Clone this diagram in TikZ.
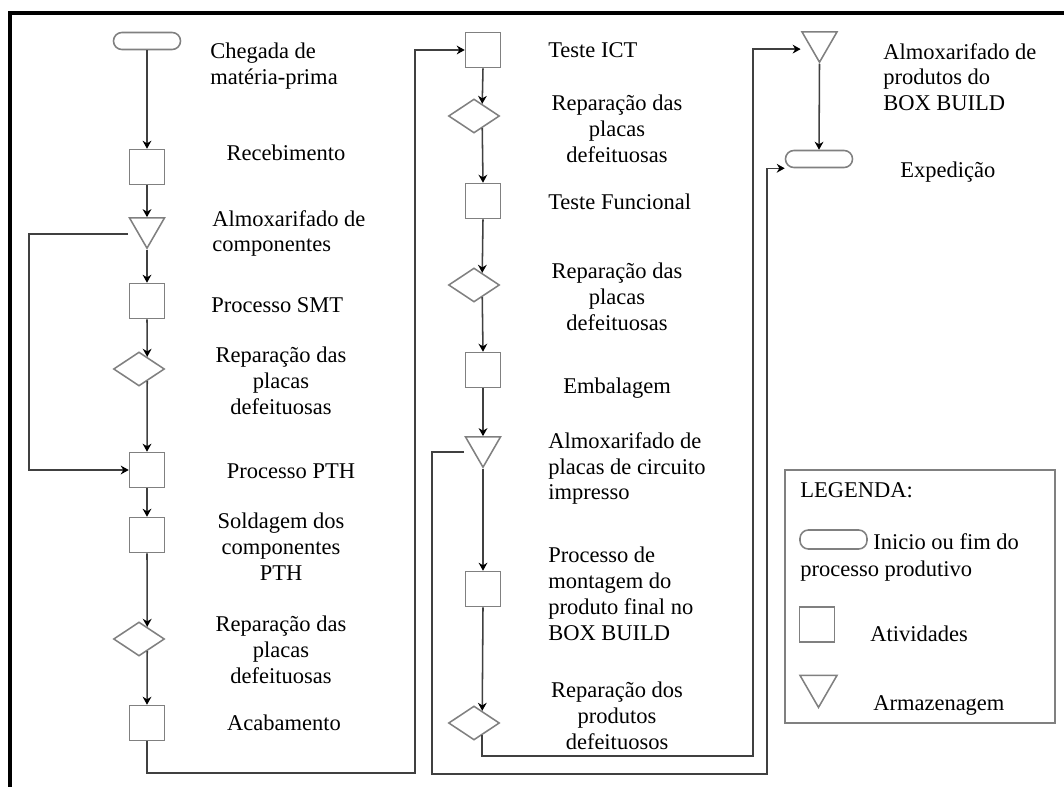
\documentclass[tikz,border=0pt]{standalone}
\usepackage{fontspec}
\setmainfont{Liberation Serif}
\usepackage{tikz}
\usetikzlibrary{calc,arrows.meta,shapes.geometric}

\begin{document}
\begin{tikzpicture}[x=0.025cm,y=-0.025cm,
    activ/.style={draw=black!50,line width=1.1pt,minimum size=0.875cm,inner sep=0pt},
    repar/.style={diamond,draw=black!50,line width=1.1pt,minimum width=1.275cm,minimum height=0.85cm,inner sep=0pt},
    armaz/.style={regular polygon,regular polygon sides=3,shape border rotate=180,draw=black!50,line width=1.1pt,minimum size=1.01cm,inner sep=0pt},
    termi/.style={draw=black!50,line width=1.1pt,rounded corners=2.1mm,minimum width=1.675cm,minimum height=0.425cm,inner sep=0pt},
    flow/.style={draw=black!75,line width=1.1pt,-{Stealth[black,length=2mm,width=2.2mm]}},
    lbl/.style={inner sep=0pt,font=\fontsize{16}{18.4}\selectfont,align=left,anchor=north west},
    lblc/.style={lbl,align=center,anchor=north}]
    \useasboundingbox (0,0) rectangle (1064,787);
    \draw[line width=2.2pt,black] (10,787) -- (10,13) -- (1064,13);

    % first column
    \node[termi] (st) at (147,41) {};
    \node[activ] (rb) at (147,167) {};
    \node[armaz] (al1) at (147,228) {};
    \node[activ] (smt) at (147,301) {};
    \node[repar] (rp1) at (139,369) {};
    \node[activ] (pth) at (147,470) {};
    \node[activ] (sold) at (147,535) {};
    \node[repar] (rp2) at (139,639) {};
    \node[activ] (acab) at (147,723) {};

    \node[lbl] (lbChegada) at (210,43) {Chegada de\\matéria-prima};
    \node[lblc] (lbReceb) at (286,145) {Recebimento};
    \node[lbl] (lbAlmox1) at (212,210) {Almoxarifado de\\componentes};
    \node[lbl] (lbSMT) at (211,297) {Processo SMT};
    \node[lblc] (lbRep1) at (281,347) {Reparação das\\placas\\defeituosas};
    \node[lblc] (lbPTH) at (291,463) {Processo PTH};
    \node[lblc] (lbSold) at (281,513) {Soldagem dos\\componentes\\PTH};
    \node[lblc] (lbRep2) at (281,616) {Reparação das\\placas\\defeituosas};
    \node[lblc] (lbAcab) at (284,715) {Acabamento};

    \draw[flow] (st.south) -- (rb.north);
    \draw[flow] (rb.south) -- (al1.north);
    \draw[flow] (al1.south) -- (smt.north);
    \draw[flow] (smt.south) -- (rp1.56);
    \draw[flow] (rp1.-56) -- (pth.north);
    \draw[flow] (pth.south) -- (sold.north);
    \draw[flow] (sold.south) -- (rp2.56);
    \draw[flow] (rp2.-56) -- (acab.north);
    \draw[flow] ($(al1.corner 3)+(0,17)$) -- ++(-99,0) |- (pth.west);

    % second column
    \node[activ] (ict) at (483,50) {};
    \node[repar] (rp3) at (474,116) {};
    \node[activ] (func) at (483,201) {};
    \node[repar] (rp4) at (474,285) {};
    \node[activ] (emb) at (483,370) {};
    \node[armaz] (al2) at (483,447) {};
    \node[activ] (mont) at (483,589) {};
    \node[repar] (rp5) at (474,723) {};

    \node[lbl] (lbICT) at (548,42) {Teste ICT};
    \node[lblc] (lbRep3) at (617,95) {Reparação das\\placas\\defeituosas};
    \node[lbl] (lbFunc) at (548,194) {Teste Funcional};
    \node[lblc] (lbRep4) at (617,263) {Reparação das\\placas\\defeituosas};
    \node[lblc] (lbEmb) at (617,378) {Embalagem};
    \node[lbl] (lbAlmox2) at (548,432) {Almoxarifado de\\placas de circuito\\impresso};
    \node[lbl] (lbMont) at (548,547) {Processo de\\montagem do\\produto final no\\BOX BUILD};
    \node[lblc] (lbRep5) at (617,682) {Reparação dos\\produtos\\defeituosos};

    \coordinate (ret1) at (415,773);
    \draw[flow] (acab.south) |- (ret1) |- (ict.west);
    \draw[flow] (ict.south) -- (rp3.56);
    \draw[flow] (rp3.-56) -- (func.north);
    \draw[flow] (func.south) -- (rp4.56);
    \draw[flow] (rp4.-56) -- (emb.north);
    \draw[flow] (emb.south) -- (al2.north);
    \draw[flow] (al2.south) -- (mont.north);
    \draw[flow] (mont.south) -- (rp5.56);

    % third column
    \node[armaz] (al3) at (819.5,42) {};
    \node[termi] (exp) at (819,159) {};

    \node[lbl] (lbAlmox3) at (883,43) {Almoxarifado de\\produtos do\\BOX BUILD};
    \node[lbl] (lbExp) at (900,162) {Expedição};

    \draw[flow] (al3.south) -- (exp.north);
    \coordinate (ret2) at (753,756);
    \draw[flow] (rp5.-56) |- (ret2) |- ($(al3.corner 3)+(0,18)$);
    \coordinate (ret3) at (432,774);
    \coordinate (ret4) at (767,774);
    \draw[flow] ($(al2.corner 3)+(0,16)$) -| (ret3) -- (ret4) |- (exp.south west);

    % legend
    \draw[draw=black!50,line width=1.1pt] (785,470) rectangle (1055,723);
    \node[lbl] (lgTitle) at (800,482) {LEGENDA:};
    \node[termi,minimum width=1.675cm,minimum height=0.475cm] (lgTermi) at (833.5,539.5) {};
    \node[lbl] (lgText1) at (873,533) {Inicio ou fim do};
    \node[lbl] (lgText2) at (800,561) {processo produtivo};
    \node[activ] (lgActiv) at (817,624.5) {};
    \node[lbl] (lgText3) at (870,626) {Atividades};
    \node[armaz,minimum size=1.07cm] (lgArmaz) at (818.5,686) {};
    \node[lbl] (lgText4) at (873,695) {Armazenagem};
\end{tikzpicture}
\end{document}
